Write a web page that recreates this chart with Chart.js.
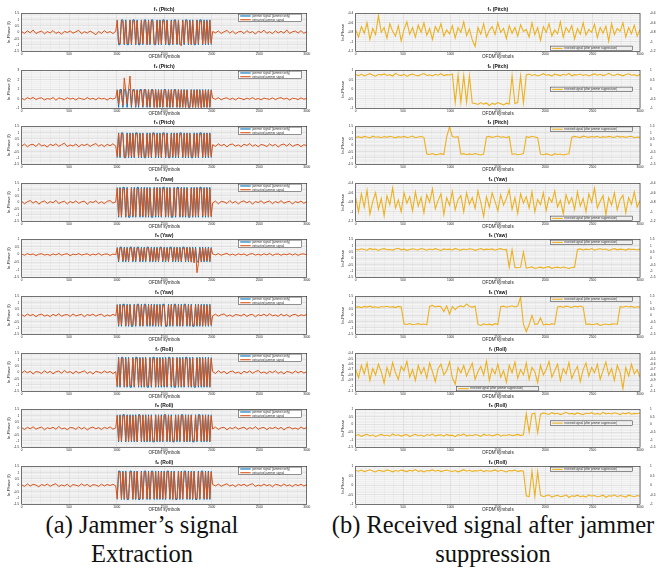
<!DOCTYPE html>
<html>
<head>
<meta charset="utf-8">
<script src="https://cdn.jsdelivr.net/npm/chart.js@4.4.1/dist/chart.umd.min.js"></script>
<style>
  body { margin: 0; background: #fff; width: 657px; height: 572px; position: relative; overflow: hidden; }
  canvas { position: absolute; }
  .cap { position: absolute; font-family: "Liberation Serif", "Times New Roman", serif; font-size: 24.5px;
         line-height: 29px; text-align: center; white-space: nowrap; color: #111; }
</style>
</head>
<body>
<div class="cap" style="left:0;top:510px;width:284px">(a) Jammer’s signal<br>Extraction</div>
<div class="cap" style="left:330px;top:510px;width:326px">(b) Received signal after jammer<br>suppression</div>
<script>
// x positions (OFDM symbol index): every 30 symbols, every 15 inside the jamming window
var ofdmSymbols = Array.from({ length: 101 }, function (_, i) { return i * 30; });
var jamWindow = Array.from({ length: 67 }, function (_, i) { return 1005 + i * 15; });
var extractedSymbols = ofdmSymbols.slice(0, 34).concat(jamWindow, ofdmSymbols.slice(67));
var xTickLabels = [0, 500, 1000, 1500, 2000, 2500, 3000];
var rowTitles = ["f₁ (Pitch)", "f₂ (Pitch)", "f₃ (Pitch)", "f₄ (Yaw)", "f₅ (Yaw)", "f₆ (Yaw)", "f₇ (Roll)", "f₈ (Roll)", "f₉ (Roll)"];
var leftLegend = ["jammer signal (jammer only)", "extracted jammer signal"];
var rightLegend = "received signal (after jammer suppression)";

// (a) extracted jammer signal: before window / inside window / after window
var extracted1 = [0.05,-0.08,0.12,-0.04,0.18,-0.1,0.02,0.09,-0.12,0.06,-0.05,0.14,-0.09,0.03,-0.15,0.08,-0.02,0.11,-0.07,0.04,0.16,-0.11,0.05,-0.06,0.1,-0.03,-0.2,0.07,-0.09,0.13,-0.04,0.06,-0.1,0.08,
  0.92,-0.88,-0.9,0.95,0.9,-0.93,0.87,-0.9,-0.86,0.94,-0.91,0.89,0.93,-0.95,0.88,-0.84,-0.9,0.96,-0.92,0.9,
  0.88,-0.97,0.91,-0.89,0.93,0.87,-0.94,-0.9,0.9,-0.88,0.95,-0.91,0.86,0.9,-0.93,0.92,-0.9,-0.87,0.89,-0.94,
  0.91,0.88,-0.92,0.95,-0.9,-1.05,0.9,-0.86,0.93,0.9,-0.91,0.87,-0.95,0.92,-0.89,-0.9,0.94,-0.88,0.91,0.86,
  -0.93,0.9,-0.92,0.88,-0.9,0.93,-0.87,
  0.07,-0.05,0.11,-0.09,0.04,0.15,-0.06,0.1,-0.12,0.03,0.08,-0.1,0.13,-0.04,0.06,-0.14,0.09,-0.02,0.17,-0.08,0.05,-0.11,0.12,-0.05,0.08,-0.07,0.19,-0.09,0.04,0.1,-0.06,0.13,-0.08,0.05];
var extracted2 = [0.05,-0.1,0.12,-0.02,0.15,-0.08,0.06,0.1,-0.12,0.03,-0.05,0.14,-0.15,0.08,0.02,-0.1,0.11,-0.04,0.07,-0.13,0.09,0.0,-0.08,0.13,-0.05,0.06,-0.11,0.1,-0.02,0.05,-0.14,0.08,-0.03,0.1,
  0.9,-0.6,0.95,0.3,-0.7,2.2,0.8,-0.5,0.95,2.4,-0.75,0.9,0.95,-0.8,0.9,-0.7,0.92,0.88,-0.82,0.97,
  0.9,-0.78,0.95,-0.85,0.9,0.93,-0.88,0.95,-0.9,0.92,-0.85,0.9,-0.88,0.94,0.9,-0.86,0.92,-0.9,0.95,-0.84,
  0.9,0.93,-0.88,0.96,-0.9,0.9,-0.87,0.94,-0.92,0.9,-0.86,-0.9,0.93,-0.88,0.91,-0.92,0.95,-0.9,0.88,-0.94,
  0.9,-0.86,0.93,-0.9,0.92,-0.88,0.9,
  0.08,-0.06,0.12,-0.1,0.04,0.1,-0.08,0.06,-0.12,0.09,0.02,-0.1,0.07,-0.05,0.13,-0.07,0.04,-0.11,0.08,0.0,-0.06,0.1,-0.09,0.05,0.12,-0.04,0.07,-0.13,0.06,0.02,-0.08,0.1,-0.05,0.04];
var extracted3 = [-0.06,0.1,-0.12,0.04,0.08,-0.1,0.15,-0.05,0.02,-0.14,0.09,-0.03,0.12,-0.08,0.05,0.17,-0.1,0.03,-0.06,0.11,-0.13,0.07,-0.02,0.1,-0.09,0.04,0.14,-0.07,0.06,-0.11,0.08,-0.04,0.12,-0.06,
  -0.9,0.92,-0.87,0.94,0.9,-0.95,-0.9,0.88,-0.91,0.93,-0.86,0.9,-0.92,0.9,0.94,-0.94,0.89,-0.88,0.95,-0.9,
  -0.92,0.87,-0.93,0.91,-0.88,0.94,0.9,-0.9,0.86,-0.86,0.92,-0.95,0.89,0.93,-0.91,0.88,-0.94,-0.9,0.9,-0.87,
  0.92,-0.9,0.94,-0.88,0.9,0.91,-0.93,0.87,-0.9,0.95,-0.89,0.92,-0.86,-0.91,0.9,-0.94,0.88,-0.9,0.93,0.87,
  -0.92,0.9,-0.88,0.94,-0.9,0.91,-0.89,
  0.05,-0.09,0.12,-0.04,0.08,-0.13,0.06,0.1,-0.07,0.03,-0.11,0.09,-0.02,0.14,-0.08,0.05,-0.12,0.07,0.01,-0.1,0.11,-0.05,0.08,-0.14,0.04,0.1,-0.06,0.13,-0.09,0.02,0.07,-0.11,0.05,-0.03];
var extracted4 = [0.08,-0.12,0.05,0.14,-0.07,0.1,-0.15,0.03,0.11,-0.09,0.06,-0.04,0.16,-0.1,0.02,0.09,-0.13,0.07,-0.05,0.12,-0.08,0.04,0.1,-0.16,0.06,-0.02,0.13,-0.09,0.05,-0.11,0.08,0.14,-0.06,0.03,
  1.1,-1.05,1.12,-1.15,1.08,1.0,-1.12,1.1,-1.08,-1.0,1.15,-1.1,1.05,-1.13,1.1,0.95,-1.08,1.12,-1.1,1.06,
  -1.14,1.1,-1.05,1.08,-1.12,-1.0,1.1,-1.09,1.13,-1.06,1.1,-1.12,1.05,1.12,-1.1,1.08,-1.15,1.1,-1.04,-1.1,
  1.12,-1.08,1.1,1.05,-1.12,1.14,-1.1,1.06,-1.08,1.1,-1.13,-1.05,1.1,-1.1,1.08,-1.12,1.15,-1.06,1.1,1.04,
  -1.1,1.12,-1.08,1.1,-1.14,1.06,-1.1,
  -0.05,0.1,-0.12,0.07,0.03,-0.09,0.14,-0.06,0.08,-0.13,0.05,0.11,-0.04,0.09,-0.15,0.06,-0.02,0.12,-0.08,0.04,0.1,-0.11,0.07,-0.05,0.13,-0.07,0.02,0.09,-0.14,0.06,-0.03,0.1,-0.08,0.05];
var extracted5 = [0.03,-0.05,0.06,-0.02,0.04,-0.07,0.02,0.05,-0.04,0.01,-0.06,0.04,-0.03,0.07,-0.05,0.02,0.05,-0.08,0.03,-0.02,0.06,-0.04,0.01,0.05,-0.06,0.03,-0.03,0.08,-0.05,0.02,0.04,-0.06,0.03,-0.02,
  0.42,-0.4,0.45,0.4,-0.43,0.44,-0.38,0.41,-0.45,0.43,0.4,-0.42,0.46,-0.4,0.42,0.39,-0.44,0.41,-0.38,0.43,
  -0.42,0.45,0.4,-0.41,0.43,-0.4,0.38,-0.45,0.42,-0.44,0.41,0.45,-0.4,0.43,-0.42,0.4,-0.46,0.44,0.4,-0.41,
  0.43,-0.39,0.45,-0.42,0.41,-0.44,0.4,0.43,-0.4,0.46,-0.42,0.44,-0.5,0.4,-0.55,0.38,-1.2,-0.6,0.42,-0.45,
  0.4,-0.43,0.44,-0.4,0.42,-0.44,0.41,
  0.04,-0.03,0.06,-0.05,0.02,0.07,-0.04,0.03,-0.06,0.05,-0.02,0.04,-0.07,0.03,0.06,-0.04,0.02,-0.05,0.05,-0.03,0.07,-0.06,0.02,0.04,-0.05,0.03,-0.02,0.06,-0.04,0.05,-0.06,0.03,0.04,-0.02];
var extracted6 = [0.05,-0.08,0.1,-0.03,0.07,-0.11,0.04,0.09,-0.06,0.02,-0.1,0.08,-0.04,0.12,-0.07,0.03,0.06,-0.09,0.11,-0.05,0.02,0.08,-0.12,0.06,-0.02,0.1,-0.07,0.04,0.09,-0.1,0.03,-0.06,0.08,-0.04,
  0.8,-0.78,0.82,-0.76,0.79,0.75,-0.83,0.8,-0.77,0.81,-0.8,-0.74,0.83,-0.79,0.76,0.82,-0.8,0.78,-0.84,0.77,
  0.8,-0.76,0.81,-0.79,0.83,-0.75,0.78,-0.82,0.8,-0.77,0.79,-0.81,0.76,0.8,-0.78,-0.82,0.8,-0.75,0.83,-0.8,
  0.77,0.81,-0.79,0.8,-0.84,0.76,-0.8,0.82,0.78,-0.77,0.8,-0.83,0.79,-0.76,-0.8,0.81,-0.78,0.84,-0.8,0.77,
  -0.79,0.8,-0.82,0.78,-0.8,0.81,-0.77,
  -0.04,0.09,-0.07,0.05,0.11,-0.08,0.03,-0.1,0.06,0.02,-0.05,0.1,-0.09,0.04,0.07,-0.12,0.05,-0.03,0.09,-0.06,0.12,-0.04,0.02,-0.08,0.1,-0.05,0.06,-0.11,0.03,0.08,-0.07,0.04,-0.02,0.06];
var extracted7 = [-0.07,0.12,-0.04,0.09,-0.14,0.06,0.02,-0.1,0.13,-0.05,0.08,-0.12,0.04,0.1,-0.08,0.15,-0.03,0.06,-0.11,0.09,-0.06,0.03,0.12,-0.09,0.05,-0.14,0.08,0.02,-0.07,0.11,-0.04,0.07,-0.1,0.05,
  -1.1,1.08,-1.05,1.12,1.1,-1.15,1.05,-1.1,1.13,-1.08,-1.02,1.1,-1.12,1.06,1.14,-1.1,1.08,-1.05,1.12,-1.13,
  1.1,-1.07,-1.0,1.12,-1.1,1.05,1.08,-1.14,1.1,-1.06,1.12,-1.09,1.04,-1.1,1.1,-1.12,1.06,1.1,-1.08,1.14,
  -1.1,-1.05,1.12,-1.08,1.1,-1.13,1.06,-1.1,1.1,1.08,-1.12,1.05,-1.1,1.14,-1.06,-1.1,1.1,-1.08,1.12,-1.04,
  1.1,-1.12,1.06,-1.1,1.08,-1.14,1.1,
  0.06,-0.1,0.13,-0.05,0.08,-0.12,0.04,0.1,-0.07,0.02,-0.13,0.09,-0.04,0.11,-0.08,0.06,0.14,-0.06,0.03,-0.1,0.08,-0.03,0.12,-0.09,0.05,-0.13,0.07,0.02,-0.08,0.11,-0.05,0.09,-0.06,0.04];
var extracted8 = [0.06,-0.1,0.08,-0.04,0.12,-0.07,0.03,0.1,-0.12,0.05,-0.03,0.09,-0.08,0.14,-0.05,0.02,-0.11,0.07,0.04,-0.09,0.11,-0.06,0.08,-0.13,0.03,0.1,-0.04,0.06,-0.1,0.08,-0.02,0.12,-0.07,0.04,
  1.0,-0.98,1.02,-1.0,0.96,1.04,-1.02,0.98,-1.05,1.0,-0.96,1.03,-1.0,0.97,-1.04,1.01,0.99,-1.02,1.05,-0.98,
  1.0,-1.03,0.96,-1.0,1.02,-0.97,-1.04,1.0,-0.99,1.03,-1.0,0.98,-1.02,1.0,1.04,-0.98,1.01,-1.03,0.97,-1.0,
  -1.02,1.0,-0.96,1.04,-1.0,0.98,1.02,-1.01,0.99,-1.04,1.0,-0.97,1.03,-1.0,-0.98,1.02,-1.0,0.96,1.04,-1.02,
  1.0,-0.99,1.03,-1.0,0.98,-1.02,1.0,
  -0.06,0.1,-0.09,0.04,0.08,-0.12,0.05,-0.03,0.11,-0.07,0.02,0.09,-0.1,0.06,-0.04,0.13,-0.08,0.03,0.07,-0.11,0.05,-0.02,0.1,-0.06,0.08,-0.13,0.04,0.09,-0.05,0.02,-0.08,0.11,-0.04,0.06];
var extracted9 = [0.04,-0.09,0.11,-0.06,0.08,0.02,-0.12,0.07,-0.03,0.1,-0.08,0.05,0.13,-0.1,0.03,-0.05,0.09,-0.13,0.06,0.01,-0.07,0.12,-0.04,0.08,-0.11,0.05,0.02,-0.09,0.1,-0.06,0.07,-0.02,0.09,-0.05,
  -1.05,1.02,1.08,-1.06,1.04,-1.1,1.05,-1.0,-1.07,1.06,1.03,-1.08,1.05,-1.04,1.1,-1.02,-1.06,1.04,-1.08,1.07,
  1.02,-1.05,1.06,-1.09,1.04,1.0,-1.06,1.08,-1.03,1.05,-1.07,1.04,-1.05,1.06,-1.02,1.08,1.04,-1.06,1.03,-1.1,
  1.05,-1.04,-1.06,1.07,-1.02,1.05,-1.08,1.04,1.06,-1.05,1.02,-1.07,1.05,-1.03,1.08,-1.06,-1.04,1.05,-1.08,1.02,
  1.06,-1.05,1.04,-1.07,1.05,-1.03,1.06,
  0.07,-0.05,0.1,-0.08,0.03,0.12,-0.06,0.04,-0.11,0.08,-0.02,0.09,-0.07,0.05,0.13,-0.09,0.02,-0.06,0.1,-0.04,0.06,-0.12,0.08,0.03,-0.07,0.11,-0.05,0.04,-0.1,0.07,-0.03,0.09,-0.06,0.05];

// (a) jammer-only signal inside the jamming window (same symbol grid as the window)
var truth1 = [0.98,-0.98,-0.98,0.98,0.98,-0.98,0.98,-0.98,-0.98,0.98,-0.98,0.98,0.98,-0.98,0.98,-0.98,-0.98,0.98,-0.98,0.98,
  0.98,-0.98,0.98,-0.98,0.98,0.98,-0.98,-0.98,0.98,-0.98,0.98,-0.98,0.98,0.98,-0.98,0.98,-0.98,-0.98,0.98,-0.98,
  0.98,0.98,-0.98,0.98,-0.98,-0.98,0.98,-0.98,0.98,0.98,-0.98,0.98,-0.98,0.98,-0.98,-0.98,0.98,-0.98,0.98,0.98,
  -0.98,0.98,-0.98,0.98,-0.98,0.98,-0.98];
var truth2 = [0.97,-0.9,0.97,0.97,-0.9,0.97,0.97,-0.9,0.97,0.97,-0.9,0.97,0.97,-0.9,0.97,-0.9,0.97,0.97,-0.9,0.97,
  0.97,-0.9,0.97,-0.9,0.97,0.97,-0.9,0.97,-0.9,0.97,-0.9,0.97,-0.9,0.97,0.97,-0.9,0.97,-0.9,0.97,-0.9,
  0.97,0.97,-0.9,0.97,-0.9,0.97,-0.9,0.97,-0.9,0.97,-0.9,-0.9,0.97,-0.9,0.97,-0.9,0.97,-0.9,0.97,-0.9,
  0.97,-0.9,0.97,-0.9,0.97,-0.9,0.97];
var truth3 = [-0.98,0.98,-0.98,0.98,0.98,-0.98,-0.98,0.98,-0.98,0.98,-0.98,0.98,-0.98,0.98,0.98,-0.98,0.98,-0.98,0.98,-0.98,
  -0.98,0.98,-0.98,0.98,-0.98,0.98,0.98,-0.98,0.98,-0.98,0.98,-0.98,0.98,0.98,-0.98,0.98,-0.98,-0.98,0.98,-0.98,
  0.98,-0.98,0.98,-0.98,0.98,0.98,-0.98,0.98,-0.98,0.98,-0.98,0.98,-0.98,-0.98,0.98,-0.98,0.98,-0.98,0.98,0.98,
  -0.98,0.98,-0.98,0.98,-0.98,0.98,-0.98];
var truth4 = [1.18,-1.18,1.18,-1.18,1.18,1.18,-1.18,1.18,-1.18,-1.18,1.18,-1.18,1.18,-1.18,1.18,1.18,-1.18,1.18,-1.18,1.18,
  -1.18,1.18,-1.18,1.18,-1.18,-1.18,1.18,-1.18,1.18,-1.18,1.18,-1.18,1.18,1.18,-1.18,1.18,-1.18,1.18,-1.18,-1.18,
  1.18,-1.18,1.18,1.18,-1.18,1.18,-1.18,1.18,-1.18,1.18,-1.18,-1.18,1.18,-1.18,1.18,-1.18,1.18,-1.18,1.18,1.18,
  -1.18,1.18,-1.18,1.18,-1.18,1.18,-1.18];
var truth5 = [0.48,-0.48,0.48,0.48,-0.48,0.48,-0.48,0.48,-0.48,0.48,0.48,-0.48,0.48,-0.48,0.48,0.48,-0.48,0.48,-0.48,0.48,
  -0.48,0.48,0.48,-0.48,0.48,-0.48,0.48,-0.48,0.48,-0.48,0.48,0.48,-0.48,0.48,-0.48,0.48,-0.48,0.48,0.48,-0.48,
  0.48,-0.48,0.48,-0.48,0.48,-0.48,0.48,0.48,-0.48,0.48,-0.48,0.48,-0.48,0.48,-0.48,0.48,-0.48,-0.48,0.48,-0.48,
  0.48,-0.48,0.48,-0.48,0.48,-0.48,0.48];
var truth6 = [0.87,-0.87,0.87,-0.87,0.87,0.87,-0.87,0.87,-0.87,0.87,-0.87,-0.87,0.87,-0.87,0.87,0.87,-0.87,0.87,-0.87,0.87,
  0.87,-0.87,0.87,-0.87,0.87,-0.87,0.87,-0.87,0.87,-0.87,0.87,-0.87,0.87,0.87,-0.87,-0.87,0.87,-0.87,0.87,-0.87,
  0.87,0.87,-0.87,0.87,-0.87,0.87,-0.87,0.87,0.87,-0.87,0.87,-0.87,0.87,-0.87,-0.87,0.87,-0.87,0.87,-0.87,0.87,
  -0.87,0.87,-0.87,0.87,-0.87,0.87,-0.87];
var truth7 = [-1.18,1.18,-1.18,1.18,1.18,-1.18,1.18,-1.18,1.18,-1.18,-1.18,1.18,-1.18,1.18,1.18,-1.18,1.18,-1.18,1.18,-1.18,
  1.18,-1.18,-1.18,1.18,-1.18,1.18,1.18,-1.18,1.18,-1.18,1.18,-1.18,1.18,-1.18,1.18,-1.18,1.18,1.18,-1.18,1.18,
  -1.18,-1.18,1.18,-1.18,1.18,-1.18,1.18,-1.18,1.18,1.18,-1.18,1.18,-1.18,1.18,-1.18,-1.18,1.18,-1.18,1.18,-1.18,
  1.18,-1.18,1.18,-1.18,1.18,-1.18,1.18];
var truth8 = [1.07,-1.07,1.07,-1.07,1.07,1.07,-1.07,1.07,-1.07,1.07,-1.07,1.07,-1.07,1.07,-1.07,1.07,1.07,-1.07,1.07,-1.07,
  1.07,-1.07,1.07,-1.07,1.07,-1.07,-1.07,1.07,-1.07,1.07,-1.07,1.07,-1.07,1.07,1.07,-1.07,1.07,-1.07,1.07,-1.07,
  -1.07,1.07,-1.07,1.07,-1.07,1.07,1.07,-1.07,1.07,-1.07,1.07,-1.07,1.07,-1.07,-1.07,1.07,-1.07,1.07,1.07,-1.07,
  1.07,-1.07,1.07,-1.07,1.07,-1.07,1.07];
var truth9 = [-1.12,1.12,1.12,-1.12,1.12,-1.12,1.12,-1.12,-1.12,1.12,1.12,-1.12,1.12,-1.12,1.12,-1.12,-1.12,1.12,-1.12,1.12,
  1.12,-1.12,1.12,-1.12,1.12,1.12,-1.12,1.12,-1.12,1.12,-1.12,1.12,-1.12,1.12,-1.12,1.12,1.12,-1.12,1.12,-1.12,
  1.12,-1.12,-1.12,1.12,-1.12,1.12,-1.12,1.12,1.12,-1.12,1.12,-1.12,1.12,-1.12,1.12,-1.12,-1.12,1.12,-1.12,1.12,
  1.12,-1.12,1.12,-1.12,1.12,-1.12,1.12];

// (b) received signal after jammer suppression
var received1 = [-0.75,-0.9,-0.68,-0.82,-0.6,-0.95,-0.72,-0.85,-0.45,-0.8,-0.7,-0.92,-0.62,-0.78,-0.88,-0.66,-0.98,-0.74,-0.58,-0.84,
  -0.7,-0.9,-0.65,-0.8,-0.6,-0.86,-0.72,-0.95,-0.68,-0.79,-0.62,-0.88,-0.75,-0.83,-0.66,-0.92,-0.7,-0.8,-0.58,-0.87,
  -0.73,-0.96,-1.1,-0.7,-0.84,-0.62,-0.9,-0.76,-0.68,-0.85,-0.6,-0.8,-0.72,-0.93,-0.66,-0.82,-0.7,-0.88,-0.64,-0.78,
  -0.74,-0.9,-0.6,-0.85,-0.7,-0.97,-0.68,-0.8,-0.62,-0.88,-0.75,-0.83,-0.58,-0.9,-0.7,-0.8,-0.66,-0.94,-0.72,-0.84,
  -0.6,-0.86,-0.74,-0.8,-0.63,-0.91,-0.7,-0.82,-0.67,-0.99,-0.62,-0.85,-0.72,-0.78,-0.6,-0.9,-0.7,-0.83,-0.65,-0.88,-0.74];
var received2 = [0.78,0.72,0.8,0.7,0.76,0.82,0.74,0.69,0.79,0.75,0.81,0.73,0.77,0.7,0.84,0.75,0.72,0.79,0.68,0.76,
  0.8,0.74,0.71,0.78,0.83,0.73,0.76,0.7,0.79,0.74,0.82,0.72,0.77,0.75,0.8,
  -0.7,0.75,-0.68,0.73,-0.7,0.7,-0.72,
  -0.75,-0.8,-0.7,-0.78,-0.72,-0.85,-0.74,-0.79,-0.7,-0.76,-0.82,-0.73,-0.78,
  0.72,-0.75,-0.7,0.7,-0.72,0.76,
  0.8,0.73,0.78,0.7,0.75,0.82,0.74,0.77,0.69,0.8,0.76,0.72,0.79,0.74,0.83,0.71,0.77,0.75,0.8,0.73,
  0.78,0.7,0.76,0.81,0.74,0.79,0.72,0.77,0.84,0.75,0.73,0.8,0.76,0.71,0.78,0.82,0.74,0.77,0.7,0.79];
var received3 = [0.62,0.68,0.6,0.7,0.65,0.58,0.72,0.64,0.67,0.6,0.69,0.63,0.71,0.66,0.59,0.68,0.64,0.7,0.62,0.66,0.73,0.6,0.65,0.69,0.63,
  -0.68,-0.72,-0.65,-0.75,-0.7,-0.66,-0.73,
  0.66,1.45,0.7,0.64,0.68,
  -0.7,-0.66,-0.74,-0.68,-0.72,-0.65,-0.71,-0.76,-0.69,
  0.65,0.7,0.62,0.68,0.73,0.64,0.67,0.6,0.69,
  -0.72,-0.67,-0.74,-0.7,-0.65,
  0.68,0.63,0.71,0.66,0.6,
  -0.7,-0.75,-0.68,-0.72,-0.8,-0.66,-0.73,-0.69,-0.76,-0.7,-0.67,
  0.64,0.7,0.66,0.61,0.72,0.67,0.63,0.69,0.65,0.71,0.6,0.68,0.64,0.7,0.66,0.62,0.73,0.65,0.69,0.63,0.67,0.71,0.6,0.66,0.64];
var received4 = [-0.7,-1.0,-0.62,-0.9,-0.55,-1.05,-0.78,-0.6,-0.95,-0.72,-1.08,-0.66,-0.85,-0.5,-0.92,-0.75,-1.0,-0.6,-0.82,-0.68,
  -0.98,-0.58,-0.88,-0.7,-1.02,-0.64,-0.8,-0.52,-0.94,-0.76,-0.62,-1.06,-0.7,-0.86,-0.57,-0.96,-0.74,-0.66,-1.0,-0.6,
  -0.84,-0.7,-0.93,-0.56,-0.8,-1.1,-0.68,-0.9,-0.6,-0.78,-0.98,-0.64,-0.86,-0.72,-0.54,-0.95,-0.7,-1.03,-0.62,-0.82,
  -0.68,-0.92,-0.58,-1.0,-0.74,-0.85,-0.6,-0.97,-0.7,-0.8,-0.56,-0.9,-0.76,-1.04,-0.64,-0.83,-0.7,-0.95,-0.58,-0.88,
  -0.72,-1.0,-0.62,-0.8,-0.5,-0.92,-0.78,-0.66,-1.06,-0.7,-0.86,-0.6,-0.96,-0.74,-0.65,-1.02,-0.7,-0.84,-0.58,-0.9,-0.76];
var received5 = [0.72,0.66,0.75,0.7,0.64,0.78,0.69,0.73,0.62,0.71,0.76,0.68,0.7,0.65,0.74,0.79,0.67,0.72,0.63,0.7,
  0.75,0.69,0.66,0.77,0.71,0.64,0.73,0.68,0.76,0.7,0.62,0.74,0.69,0.72,0.66,0.78,0.7,0.65,0.73,0.68,
  0.75,0.71,0.63,0.7,0.77,0.67,0.72,0.69,0.74,0.64,0.71,0.76,0.68,0.7,
  -0.7,0.68,-0.72,
  -0.75,-0.7,0.5,-0.78,-0.72,-0.68,-0.8,-0.74,-0.7,-0.77,-0.71,-0.66,-0.79,-0.73,-0.7,-0.76,-0.69,-0.74,-0.8,-0.72,-0.7,
  0.7,0.74,0.66,0.72,0.68,0.77,0.64,0.71,0.75,0.69,0.73,0.62,0.7,0.76,0.67,0.72,0.7,0.65,0.74,0.69,0.71,0.66,0.73];
var received6 = [0.62,0.68,0.6,0.7,0.65,0.72,0.63,0.67,0.6,0.69,0.66,0.71,0.64,0.68,0.61,0.7,0.65,
  -0.68,-0.72,-0.65,-0.74,-0.7,-0.66,-0.73,-0.69,-0.75,
  0.7,0.78,0.66,0.72,0.68,0.3,0.75,0.1,0.7,0.45,0.68,0.74,0.66,0.9,0.7,0.65,0.72,
  -0.72,-0.8,-0.68,-0.74,-0.7,-0.77,-0.66,-0.73,
  0.68,0.72,0.64,0.7,0.75,0.66,0.73,1.45,
  -0.7,-1.3,-0.75,0.0,-0.72,-0.68,-0.2,-0.76,-0.7,-0.74,-0.66,-0.72,
  0.66,0.7,0.64,0.72,0.68,0.62,0.71,0.67,0.73,0.65,
  -0.72,-0.68,-0.75,-0.7,-0.66,-0.8,-0.73,-0.69,-0.74,-0.7,-0.67,-0.72,
  0.68,0.64,0.71,0.66,0.7,0.62,0.68,0.65];
var received7 = [-0.7,-0.85,-0.62,-0.78,-0.58,-0.9,-0.68,-0.8,-0.6,-0.74,-0.95,-0.66,-0.82,-0.57,-0.76,-0.88,-0.64,-0.72,-0.55,-0.84,
  -0.7,-0.9,-0.62,-0.78,-0.66,-0.86,-0.58,-0.74,-0.92,-0.68,-0.6,-0.8,-0.72,-0.56,-0.85,-0.97,-0.66,-0.76,-0.62,-0.82,
  -0.7,-0.58,-0.88,-0.74,-0.64,-0.8,-0.54,-0.9,-0.68,-0.78,-0.6,-0.84,-0.72,-0.93,-0.62,-0.76,-0.56,-0.86,-0.7,-0.8,
  -0.58,-0.88,-0.66,-0.74,-0.94,-0.62,-0.8,-0.7,-0.55,-0.84,-0.72,-0.6,-0.9,-0.68,-0.78,-0.57,-0.86,-0.74,-0.64,-0.92,
  -0.7,-0.58,-0.82,-0.66,-0.76,-0.6,-0.88,-0.72,-0.56,-0.8,-0.68,-0.9,-0.62,-0.75,-1.05,-0.66,-0.82,-0.6,-0.78,-0.7,-0.84];
var received8 = [-0.72,-0.66,-0.78,-0.7,-0.64,-0.75,-0.68,-0.8,-0.71,-0.65,-0.74,-0.69,-0.77,-0.62,-0.72,-0.68,-0.76,-0.7,-0.66,-0.79,
  -0.71,-0.64,-0.74,-0.69,-0.78,-0.66,-0.72,-0.63,-0.75,-0.7,-0.68,-0.77,-0.65,-0.73,-0.7,-0.8,-0.67,-0.72,-0.62,-0.76,
  -0.69,-0.74,-0.66,-0.71,-0.78,-0.64,-0.72,-0.68,-0.75,-0.7,-0.63,-0.77,-0.69,-0.72,-0.66,-0.74,-0.7,-0.65,-0.73,-0.68,
  0.72,-0.5,0.7,0.75,-0.55,0.68,0.76,0.71,0.66,0.78,0.7,0.74,0.65,0.72,0.8,0.69,0.73,0.67,0.76,0.7,
  0.64,0.75,0.71,0.78,0.68,0.73,0.66,0.8,0.7,0.74,0.69,0.77,0.72,0.65,0.75,0.7,0.78,0.68,0.73,0.71,0.76];
var received9 = [0.78,0.74,0.8,0.72,0.77,0.82,0.75,0.7,0.79,0.76,0.73,0.81,0.77,0.71,0.78,0.74,0.8,0.76,0.72,0.79,
  0.75,0.83,0.73,0.77,0.7,0.78,0.76,0.81,0.74,0.79,0.72,0.77,0.8,0.75,0.73,0.78,0.71,0.76,0.82,0.74,
  0.79,0.73,0.77,0.75,0.8,0.72,0.78,0.74,0.76,0.81,0.73,0.79,0.75,0.7,0.78,0.76,0.8,0.72,0.77,0.74,
  -0.55,-0.6,0.75,-0.58,0.72,-0.52,-0.6,-0.55,-0.5,-0.62,-0.56,-0.53,-0.6,-0.57,-0.5,-0.64,-0.55,-0.58,-0.52,-0.6,
  -0.56,-0.62,-0.5,-0.57,-0.54,-0.6,-0.58,-0.52,-0.63,-0.55,-0.57,-0.5,-0.6,-0.54,-0.58,-0.62,-0.52,-0.56,-0.6,-0.54,-0.58];

var extracted = [extracted1, extracted2, extracted3, extracted4, extracted5, extracted6, extracted7, extracted8, extracted9];
var truth = [truth1, truth2, truth3, truth4, truth5, truth6, truth7, truth8, truth9];
var received = [received1, received2, received3, received4, received5, received6, received7, received8, received9];

// axis ranges [min, max, major step]
var leftRanges = [[-1.5,1.5,0.5],[-1,3,1],[-1.5,1.5,0.5],[-1.5,1.5,0.5],[-1.5,1,0.5],[-1.5,1.5,0.5],[-1.5,1.5,0.5],[-1.5,1.5,0.5],[-1.5,1.5,0.5]];
var rightRanges = [[-1.2,-0.4,0.2],[-1,1,0.5],[-1.5,1.5,0.5],[-1.2,-0.4,0.2],[-1.5,1.5,0.5],[-1.5,1.5,0.5],[-1.1,-0.4,0.1],[-1.5,1,0.5],[-1,1,0.5]];
// legend box offset inside the plot area [dx, dy]
var rightLegendPos = [[195,32.8],[195,16.8],[195,0.6],[195,32.8],[195,0.8],[195,0.6],[101,33],[195,11.5],[195,0.8]];

var FONT = '"Liberation Sans", "DejaVu Sans", Arial, sans-serif';
var BLUE = "#0072BD", ORANGE = "#D95319", YELLOW = "#EDB120";

function pts(xs, ys) {
  return ys.map(function (y, i) { return { x: xs[i], y: y }; });
}
function isMajor(v, step) {
  return Math.abs(v / step - Math.round(v / step)) < 1e-6;
}
function fmt(v) {
  var r = Math.round(v * 100) / 100;
  return String(r === 0 ? 0 : r);
}

var figPlugin = {
  id: "fig",
  beforeDraw: function (chart) {
    var a = chart.chartArea, ctx = chart.ctx;
    ctx.save();
    ctx.fillStyle = "#f6f6f6";
    ctx.fillRect(a.left, a.top, a.right - a.left, a.bottom - a.top);
    ctx.restore();
  },
  afterDraw: function (chart, args, opts) {
    var a = chart.chartArea, ctx = chart.ctx;
    ctx.save();
    ctx.strokeStyle = "#262626";
    ctx.lineWidth = 0.6;
    ctx.strokeRect(a.left, a.top, a.right - a.left, a.bottom - a.top);
    // title
    ctx.fillStyle = "#111";
    ctx.font = "bold 5px " + FONT;
    ctx.textAlign = "center";
    ctx.textBaseline = "middle";
    ctx.fillText(opts.title, (a.left + a.right) / 2, 8);
    // legend
    var lg = opts.legend;
    var x = a.left + lg.x, y = a.top + lg.y;
    ctx.fillStyle = lg.fill;
    ctx.fillRect(x, y, lg.w, lg.h);
    ctx.strokeStyle = "#262626";
    ctx.lineWidth = 0.5;
    ctx.strokeRect(x, y, lg.w, lg.h);
    var rowH = lg.h / lg.items.length;
    ctx.font = lg.size + "px " + FONT;
    ctx.textAlign = "left";
    lg.items.forEach(function (it, k) {
      var cy = y + rowH * (k + 0.5);
      ctx.strokeStyle = it.color;
      ctx.lineWidth = 1.1;
      ctx.beginPath();
      ctx.moveTo(x + 1.5, cy);
      ctx.lineTo(x + 12, cy);
      ctx.stroke();
      ctx.fillStyle = "#333";
      ctx.fillText(it.text, x + 13.5, cy);
    });
    ctx.restore();
  }
};

function yAxis(range, plotLeft, label, titlePad) {
  var major = range[2];
  return {
    type: "linear", min: range[0], max: range[1],
    afterFit: function (s) { s.width = plotLeft; },
    border: { display: false },
    grid: {
      drawTicks: false, lineWidth: 0.5,
      color: function (c) { return c.tick && isMajor(c.tick.value, major) ? "#cfcfcf" : "#e6e6e6"; }
    },
    ticks: {
      stepSize: major / 5, maxTicksLimit: 1000, autoSkip: false, padding: 2.5,
      color: "#262626", font: { size: 3.2, family: FONT },
      callback: function (v) { return isMajor(v, major) ? fmt(v) : ""; }
    },
    title: {
      display: true, text: label, color: "#262626",
      font: { size: 4.2, family: FONT, lineHeight: 1 }, padding: { top: titlePad, bottom: 0 }
    }
  };
}

var xAxis = {
  type: "linear", min: 0, max: 3000,
  afterFit: function (s) { s.height = 8.7; },
  border: { display: false },
  grid: {
    drawTicks: false, lineWidth: 0.5,
    color: function (c) { return c.tick && xTickLabels.indexOf(c.tick.value) >= 0 ? "#cbcbcb" : "#e2e2e2"; }
  },
  ticks: {
    stepSize: 100, maxTicksLimit: 1000, autoSkip: false, maxRotation: 0, padding: 0.6,
    color: "#262626", font: { size: 3.2, family: FONT },
    callback: function (v) { return xTickLabels.indexOf(v) >= 0 ? String(v) : ""; }
  },
  title: {
    display: true, text: "OFDM symbols", color: "#262626",
    font: { size: 4.6, family: FONT, lineHeight: 1 }, padding: { top: 0, bottom: 0.7 }
  }
};

function addCanvas(left, top, w, h) {
  var c = document.createElement("canvas");
  c.width = w; c.height = h;
  c.style.left = left + "px"; c.style.top = top + "px";
  c.style.width = w + "px"; c.style.height = h + "px";
  document.body.appendChild(c);
  return c;
}

for (var i = 0; i < 9; i++) {
  var rowTop = Math.round(2 + 56.6 * i);

  // (a) column
  new Chart(addCanvas(0, rowTop, 330, 58), {
    type: "line",
    data: {
      datasets: [
        { data: pts(extractedSymbols, extracted[i]), borderColor: ORANGE, borderWidth: 1.0 },
        { data: pts(jamWindow, truth[i]), borderColor: BLUE, borderWidth: 1.0 }
      ]
    },
    options: {
      responsive: false, animation: false, devicePixelRatio: 1,
      layout: { padding: { top: 11.3, right: 23.3, bottom: 0, left: 0 } },
      elements: { point: { radius: 0 }, line: { tension: 0 } },
      scales: { x: xAxis, y: yAxis(leftRanges[i], 21.7, "In-Phase (I)", 7.2) },
      plugins: {
        legend: { display: false }, tooltip: { enabled: false },
        fig: {
          title: rowTitles[i],
          legend: { x: 217, y: 0.8, w: 63, h: 7.5, fill: "#ffffff", size: 3,
                    items: [{ color: BLUE, text: leftLegend[0] }, { color: ORANGE, text: leftLegend[1] }] }
        }
      }
    },
    plugins: [figPlugin]
  });

  // (b) column
  var yr = yAxis(rightRanges[i], 25.7, "In-Phase", 11.2);
  var y2 = yAxis(rightRanges[i], 17, "", 0);
  y2.position = "right";
  y2.grid = { display: false };
  y2.title = { display: false };
  y2.ticks.padding = 2;
  new Chart(addCanvas(330, rowTop, 327, 58), {
    type: "line",
    data: {
      datasets: [
        { data: pts(ofdmSymbols, received[i]), borderColor: YELLOW, borderWidth: 1.1 }
      ]
    },
    options: {
      responsive: false, animation: false, devicePixelRatio: 1,
      layout: { padding: { top: 11.3, right: 0, bottom: 0, left: 0 } },
      elements: { point: { radius: 0 }, line: { tension: 0 } },
      scales: { x: xAxis, y: yr, y2: y2 },
      plugins: {
        legend: { display: false }, tooltip: { enabled: false },
        fig: {
          title: rowTitles[i],
          legend: { x: rightLegendPos[i][0], y: rightLegendPos[i][1], w: 82, h: 4.6, fill: "#eeeeee", size: 2.8,
                    items: [{ color: YELLOW, text: rightLegend }] }
        }
      }
    },
    plugins: [figPlugin]
  });
}
</script>
</body>
</html>
